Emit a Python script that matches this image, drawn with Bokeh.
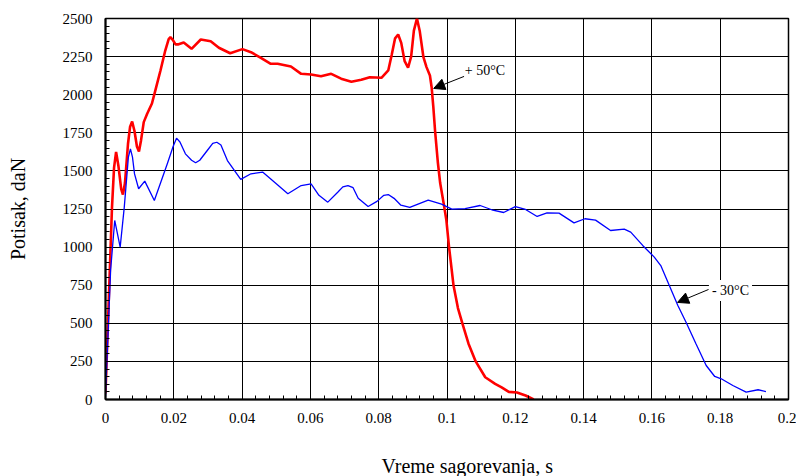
from bokeh.plotting import figure
from bokeh.models import (Range1d, SingleIntervalTicker, FixedTicker, CustomJSTickFormatter,
                          Label, Arrow, NormalHead, Title, LinearAxis)
from bokeh.embed import file_html
from bokeh.resources import INLINE

# ---- data ----
red_t = [0.0, 0.0019, 0.0025, 0.0031, 0.0038, 0.0046, 0.0051, 0.0057, 0.0066, 0.0072,
         0.0078, 0.0085, 0.0092, 0.0098, 0.0104, 0.0112, 0.0122, 0.0136, 0.0146, 0.0161,
         0.0175, 0.0185, 0.019, 0.0197, 0.0205, 0.0212, 0.0229, 0.0252, 0.0279, 0.0308,
         0.0332, 0.0365, 0.0401, 0.0426, 0.0455, 0.0484, 0.0504, 0.0543, 0.0573, 0.0602,
         0.0631, 0.0661, 0.069, 0.072, 0.0749, 0.0774, 0.0808, 0.0828, 0.0838, 0.0848,
         0.0857, 0.0866, 0.0876, 0.0886, 0.0895, 0.0903, 0.0912, 0.092, 0.0931, 0.094,
         0.095, 0.0955, 0.096, 0.0965, 0.0973, 0.098, 0.099, 0.0998, 0.1006, 0.1019,
         0.1032, 0.1045, 0.1063, 0.1084, 0.1112, 0.1141, 0.116, 0.1181, 0.1205, 0.123,
         0.1254]
red_f = [40, 1260, 1520, 1625, 1530, 1380, 1345, 1420, 1680, 1790,
         1824, 1760, 1660, 1627, 1700, 1820, 1875, 1942, 2028, 2159,
         2290, 2365, 2377, 2360, 2330, 2330, 2343, 2301, 2362, 2351,
         2308, 2272, 2299, 2279, 2242, 2203, 2203, 2185, 2137, 2133,
         2121, 2137, 2105, 2085, 2098, 2115, 2111, 2159, 2260, 2370,
         2395, 2340, 2220, 2177, 2250, 2420, 2500, 2420, 2246, 2181,
         2126, 2049, 1918, 1765, 1560, 1420, 1290, 1180, 1000, 750,
         600, 500, 366, 250, 146, 103, 80, 50, 46, 26,
         0]

blue_t = [0.0, 0.0015, 0.0027, 0.0043, 0.0055, 0.0067, 0.0073, 0.0079, 0.0085, 0.0097,
          0.0115, 0.0143, 0.0181, 0.0198, 0.0208, 0.0218, 0.0234, 0.0252, 0.0264, 0.0276,
          0.0298, 0.0314, 0.0326, 0.0338, 0.0357, 0.0396, 0.0426, 0.046, 0.0495, 0.0534,
          0.0573, 0.0602, 0.0625, 0.0651, 0.068, 0.0695, 0.071, 0.0725, 0.074, 0.0769,
          0.0795, 0.0815, 0.0828, 0.0845, 0.0865, 0.0891, 0.0945, 0.0984, 0.1014, 0.1053,
          0.1097, 0.1131, 0.1166, 0.12, 0.123, 0.1264, 0.1293, 0.1328, 0.1372, 0.1404,
          0.1435, 0.1479, 0.1519, 0.1538, 0.1573, 0.1607, 0.1626, 0.1651, 0.1676, 0.17,
          0.1729, 0.1759, 0.1784, 0.1803, 0.1837, 0.1876, 0.1911, 0.1934]
blue_f = [20, 850, 1175, 1000, 1262, 1590, 1645, 1590, 1480, 1383,
          1433, 1306, 1547, 1660, 1715, 1690, 1612, 1570, 1553, 1570,
          1634, 1680, 1688, 1670, 1568, 1444, 1481, 1492, 1426, 1350,
          1404, 1415, 1340, 1295, 1360, 1395, 1404, 1390, 1320, 1266,
          1300, 1340, 1345, 1320, 1275, 1260, 1308, 1282, 1249, 1253,
          1273, 1245, 1227, 1266, 1247, 1201, 1225, 1223, 1159, 1186,
          1177, 1109, 1118, 1098, 1011, 934, 879, 748, 617, 507,
          366, 223, 151, 136, 92, 48, 64, 52]

x_ticks = [0, 0.02, 0.04, 0.06, 0.08, 0.1, 0.12, 0.14, 0.16, 0.18, 0.2]
x_tick_labels = ["0", "0.02", "0.04", "0.06", "0.08", "0.1", "0.12", "0.14", "0.16", "0.18", "0.2"]
y_ticks = [0, 250, 500, 750, 1000, 1250, 1500, 1750, 2000, 2250, 2500]

x_title = "Vreme sagorevanja, s"
y_title = "Potisak, daN"
label_hot = "+ 50°C"
label_cold = "- 30°C"

SERIF = "Liberation Serif"

p = figure(width=796, height=476, output_backend="svg", toolbar_location=None,
           x_range=Range1d(0, 0.2), y_range=Range1d(0, 2500),
           min_border_left=105, min_border_right=8, min_border_top=18,
           min_border_bottom=77)
p.background_fill_color = "white"
p.border_fill_color = "white"
p.outline_line_color = "black"
p.outline_line_width = 1.5

p.xaxis.ticker = SingleIntervalTicker(interval=0.02, num_minor_ticks=5)
p.yaxis.ticker = SingleIntervalTicker(interval=250, num_minor_ticks=5)
p.xaxis.formatter = CustomJSTickFormatter(
    args=dict(tvals=x_ticks, tlabels=x_tick_labels),
    code="""
    let best = 0;
    for (let i = 0; i < tvals.length; i++) {
        if (Math.abs(tvals[i] - tick) < Math.abs(tvals[best] - tick)) best = i;
    }
    return tlabels[best];
    """)

for ax in (p.xaxis[0], p.yaxis[0]):
    ax.axis_line_color = "black"
    ax.axis_line_width = 2
    ax.major_tick_in = 6
    ax.major_tick_out = 0
    ax.minor_tick_in = 4
    ax.minor_tick_out = 0
    ax.major_tick_line_color = "black"
    ax.minor_tick_line_color = "black"
    ax.major_label_text_font = SERIF
    ax.major_label_text_font_size = "15px"
    ax.major_label_text_color = "black"
    ax.axis_label_text_font = SERIF
    ax.axis_label_text_font_size = "20px"
    ax.axis_label_text_font_style = "normal"
    ax.axis_label_text_color = "black"

p.xaxis.major_label_standoff = 13
p.yaxis.major_label_standoff = 13
p.yaxis.axis_label = y_title
p.yaxis.axis_label_standoff = 31

for g in (p.xgrid[0], p.ygrid[0]):
    g.grid_line_color = "black"
    g.grid_line_width = 1
    g.grid_line_alpha = 1.0

p.line(red_t, red_f, line_color="#ff0000", line_width=2.6)
p.line(blue_t, blue_f, line_color="#0000ff", line_width=1.3)

# invisible spacer below the x-axis so that the title sits low, as in the reference
spacer = LinearAxis(ticker=FixedTicker(ticks=[0.1], minor_ticks=[]),
                    formatter=CustomJSTickFormatter(code="return '';"),
                    axis_line_color=None,
                    major_tick_in=0, major_tick_out=27, minor_tick_in=0, minor_tick_out=0,
                    major_tick_line_color=None, minor_tick_line_color=None,
                    major_label_standoff=0)
p.add_layout(spacer, "below")

# x-axis title, a little right of centre as in the reference
p.add_layout(Title(text=x_title, align="left", offset=276, standoff=0,
                   vertical_align="bottom",
                   text_font=SERIF, text_font_size="20px", text_font_style="normal",
                   text_color="black"), "below")

# annotations
p.add_layout(Arrow(end=NormalHead(size=11, fill_color="black", line_color="black"),
                   x_start=0.1050, y_start=2120, x_end=0.0961, y_end=2041,
                   line_color="black", line_width=1))
p.add_layout(Label(x=0.1052, y=2159, text=label_hot, text_align="left",
                   text_baseline="middle", text_font=SERIF, text_font_size="14px",
                   text_color="black"))
p.add_layout(Arrow(end=NormalHead(size=11, fill_color="black", line_color="black"),
                   x_start=0.1766, y_start=722, x_end=0.1675, y_end=637,
                   line_color="black", line_width=1))
p.add_layout(Label(x=0.1767, y=715, text=label_cold, text_align="left",
                   text_baseline="middle", text_font=SERIF, text_font_size="14px",
                   text_color="black", background_fill_color="white", padding=3))

open("out.html", "w").write(file_html(p, INLINE))
